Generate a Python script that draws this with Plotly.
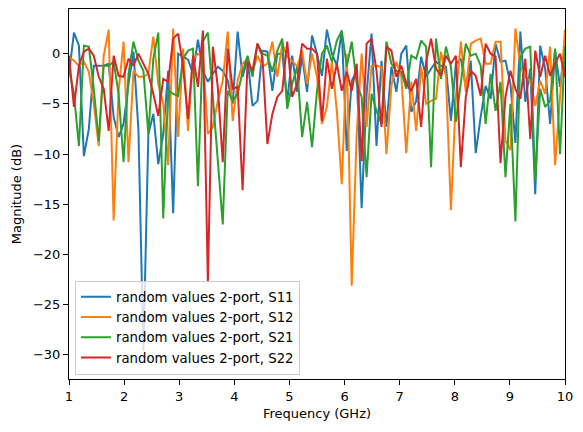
import numpy as np
import plotly.graph_objects as go

# frequency axis, 101 points from 1 to 10 GHz
freq_start = 1.0
freq_stop = 10.0
n_points = 101
freq = np.linspace(freq_start, freq_stop, n_points)

# magnitudes in dB
s11 = [-2.0, 2.1, 0.8, -10.2, -7.5, -1.2, -1.2, -1.2, -1.0, -6.3,
       -8.3, -7.0, -3.0, 0.2, -7.6, -29.6, -8.0, -6.0, -11.0, -8.0,
       -1.7, -15.9, 0.0, -0.3, -0.6, -2.0, 1.4, -1.7, -2.8, -2.0,
       -1.3, -1.7, -2.7, -5.0, 2.2, -2.3, -0.5, -5.2, -4.7, 0.3,
       0.2, -3.7, 0.0, 0.0, -4.7, -0.2, -3.8, -0.3, -3.8, 1.8,
       0.0, -2.2, 2.4, 0.0, -1.2, 2.3, -9.7, -2.7, -1.8, -15.4,
       -4.0, 2.0, -9.2, -0.7, -7.3, -1.3, -3.8, 0.0, 0.8, -5.8,
       -4.7, -0.3, -2.3, -1.5, -0.8, -1.2, -1.3, -6.7, -1.0, -0.5,
       -3.3, -0.7, -9.9, -6.3, -3.2, -4.5, 1.0, -0.8, -0.7, -3.0,
       -8.9, 2.2, -4.8, -1.5, -14.0, 0.8, -1.5, -7.0, 0.3, -3.3,
       0.7]
s12 = [-0.3, -0.7, -1.2, -0.8, -1.8, -5.0, -9.2, -0.2, 2.4, -16.6,
       -3.7, 1.2, -10.8, -1.7, -2.3, -2.3, -2.0, 1.7, -3.0, -5.0,
       -11.1, 2.5, -8.3, 0.5, -7.7, -0.5, 0.0, -0.3, -8.0, -7.3,
       -4.7, -2.7, 2.2, -6.7, -2.7, -1.0, -0.5, -1.8, -0.2, -1.3,
       -1.0, 1.2, -2.3, 1.0, -0.3, -0.7, -1.3, 0.3, -3.0, 0.0,
       -2.3, -7.0, -5.3, -0.8, -5.7, -13.0, 0.0, -23.1, -8.0, 0.0,
       -7.3, -1.2, -1.2, -1.3, -10.0, -3.2, -0.8, -2.3, -9.9, -2.8,
       -7.7, -1.3, -5.0, -4.7, -4.5, 0.2, -2.3, -15.6, -4.3, 1.2,
       -3.8, 1.0, 1.3, 1.5, -1.0, -1.0, 1.2, 1.2, -8.7, -9.6,
       2.5, -1.3, -2.3, -2.7, -5.2, -2.7, -4.0, 0.7, -11.1, -4.3,
       2.4]
s21 = [-1.5, -4.0, -9.2, 0.8, 0.7, -3.5, -8.7, -1.2, -1.2, -0.8,
       -4.0, -10.8, -2.0, 1.2, -0.7, -1.7, -8.0, -0.5, 2.1, -16.4,
       -3.7, -4.0, -4.2, -0.5, 0.3, 0.5, -13.2, 1.2, 2.1, -4.3,
       -10.6, -17.0, -3.7, -4.7, -4.0, -1.8, -0.2, -2.3, 1.0, 0.0,
       -0.2, -1.8, 0.3, 1.5, -5.5, -3.0, -1.3, -8.3, -4.8, -9.3,
       -3.7, 0.0, 0.8, -0.8, 1.3, 2.3, -1.3, 1.2, -3.0, -4.3,
       -12.3, -4.0, -5.7, -7.0, 1.2, -1.0, -1.7, -1.8, -3.5, -0.2,
       -0.5, 1.3, 0.7, -11.3, 1.5, -2.5, 0.7, -1.3, -6.8, -3.0,
       1.0, -0.2, 0.0, -1.2, -7.0, -2.0, -5.7, -2.8, -12.3, -5.0,
       -16.7, -0.3, 0.5, 0.7, -12.6, -3.5, -5.3, -4.7, 0.5, -10.0,
       0.7]
s22 = [-0.2, -5.3, -1.2, 0.2, 0.5, -0.2, -2.3, -3.5, -7.7, -0.2,
       -2.2, -2.3, -0.5, -1.2, 0.0, -1.0, -2.0, -4.0, -6.2, -2.5,
       -2.8, 1.5, 2.0, -1.3, -6.5, -0.2, -3.3, 2.3, -22.8, 0.7,
       -3.3, -10.8, 0.5, -3.5, -3.3, -13.6, -0.8, -1.7, 1.0, -0.3,
       -9.0, -6.0, -4.3, -3.7, 1.2, -4.3, -3.0, 1.0, 0.5, 0.5,
       0.0, -6.7, -0.5, -3.5, -1.0, -3.7, -1.8, -3.7, -1.0, -10.7,
       1.0, 1.5, -1.7, -7.3, 0.7, 0.3, -2.3, -1.2, -3.0, -3.7,
       -2.5, -7.3, -0.8, 1.5, -1.5, -2.2, -0.2, -1.0, -0.2, -11.3,
       -4.3, -1.7, -2.2, -4.2, 1.0, 0.0, -0.3, -10.9, -4.3, -1.7,
       -3.5, -4.5, -0.5, -8.5, 0.3, -2.3, -0.2, -2.2, -1.0, 0.0,
       -2.3]

series_names = ["random values 2-port, S11", "random values 2-port, S12",
                "random values 2-port, S21", "random values 2-port, S22"]
series_colors = ["#1f77b4", "#ff7f0e", "#2ca02c", "#d62728"]

x_ticks = list(range(1, 11))
y_ticks = [0, -5, -10, -15, -20, -25, -30]
y_tick_text = ["0", "\u22125", "\u221210", "\u221215", "\u221220", "\u221225", "\u221230"]

fig = go.Figure()
for name, color, vals in zip(series_names, series_colors, [s11, s12, s21, s22]):
    fig.add_trace(go.Scatter(x=freq, y=vals, mode="lines", name=name,
                             line=dict(color=color, width=2)))

axis_style = dict(showline=True, linecolor="black", linewidth=1, mirror=True,
                  ticks="outside", ticklen=5, tickwidth=1, tickcolor="black",
                  showgrid=False, zeroline=False,
                  tickfont=dict(family="DejaVu Sans", size=13, color="black"))
title_font = dict(family="DejaVu Sans", size=13, color="black")

fig.update_layout(
    width=583, height=432,
    margin=dict(l=69, r=18, t=9, b=53),
    plot_bgcolor="white", paper_bgcolor="white",
    font=dict(family="DejaVu Sans", size=13, color="black"),
    xaxis=dict(range=[freq_start, freq_stop], tickvals=x_ticks,
               title=dict(text="Frequency (GHz)", standoff=6, font=title_font), **axis_style),
    yaxis=dict(range=[-32.4, 4.45], tickvals=y_ticks, ticktext=y_tick_text,
               title=dict(text="Magnitude (dB)", standoff=8, font=title_font), **axis_style),
    legend=dict(x=0.012, y=0.012, xanchor="left", yanchor="bottom",
                bgcolor="rgba(255,255,255,0.8)", bordercolor="#cccccc", borderwidth=1,
                font=dict(family="DejaVu Sans", size=13.3), itemwidth=30, tracegroupgap=0),
    showlegend=True,
)

# page body has a default 8px margin, drop it so the figure sits at the corner
fig.write_html("out.html", config={"displayModeBar": False},
               post_script="document.body.style.margin='0';")
